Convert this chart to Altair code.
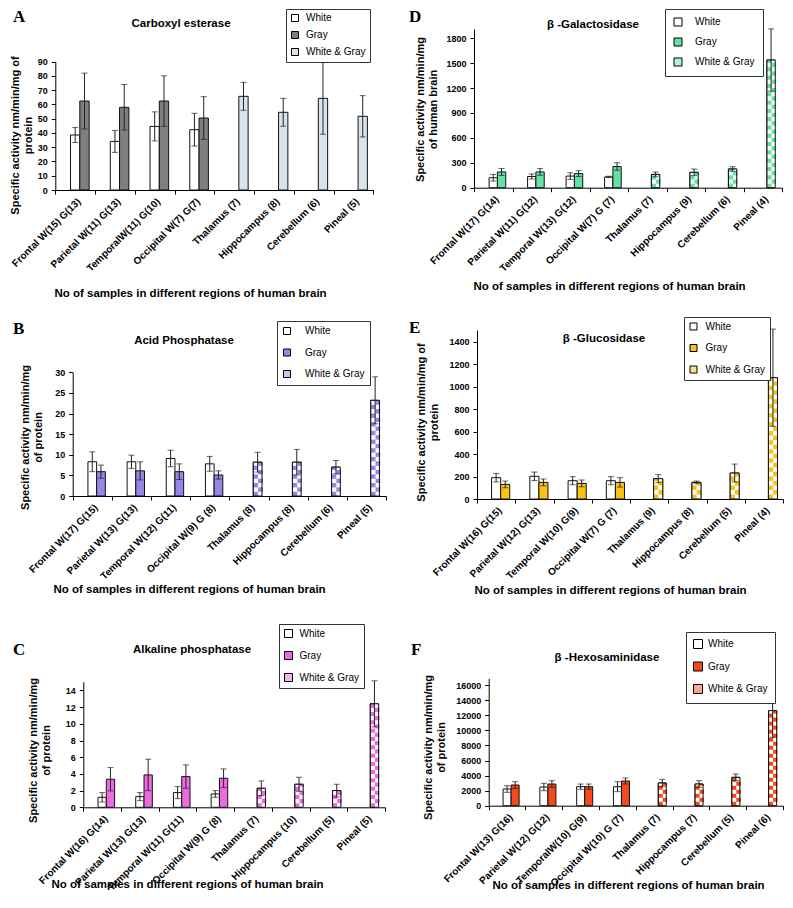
import altair as alt
import pandas as pd

SERIES = ["White", "Gray", "White & Gray"]
TITLE_X = "No of samples in different regions of human brain"

# ---------------- data ----------------
A_LABELS = ["Frontal W(15) G(13)", "Parietal W(11) G(13)", "TemporalW(11) G(10)", "Occipital W(7) G(7)",
            "Thalamus (7)", "Hippocampus (8)", "Cerebellum (6)", "Pineal  (5)"]
A_WHITE = [38.6, 34.1, 44.6, 42.3]
A_WHITE_SD = [5.3, 7.7, 10.2, 11.5]
A_GRAY = [62.4, 58.0, 62.4, 50.5]
A_GRAY_SD = [19.6, 16.0, 17.7, 15.0]
A_WG = [65.7, 54.5, 64.3, 51.7]
A_WG_SD = [9.8, 9.8, 25.2, 14.5]
A_TICKS = [0, 10, 20, 30, 40, 50, 60, 70, 80, 90]

D_LABELS = ["Frontal W(17) G(14)", "Parietal W(11) G(12)", "Temporal W(13) G(12)", "Occipital W(7) G (7)",
            "Thalamus (7)", "Hippocampus (9)", "Cerebellum (6)", "Pineal  (4)"]
D_WHITE = [120, 135, 140, 130]
D_WHITE_SD = [40, 30, 40, 8]
D_GRAY = [190, 190, 170, 255]
D_GRAY_SD = [42, 40, 35, 45]
D_WG = [160, 185, 225, 1538]
D_WG_SD = [28, 40, 28, 375]
D_TICKS = [0, 300, 600, 900, 1200, 1500, 1800]

B_LABELS = ["Frontal W(17) G(15)", "Parietal W(13) G(13)", "Temporal W(12) G(11)", "Occipital W(9) G (8)",
            "Thalamus (8)", "Hippocampus (8)", "Cerebellum (6)", "Pineal  (5)"]
B_WHITE = [8.3, 8.3, 9.1, 7.8]
B_WHITE_SD = [2.4, 1.6, 2.0, 1.8]
B_GRAY = [5.9, 6.1, 5.9, 5.1]
B_GRAY_SD = [1.6, 2.2, 1.9, 1.0]
B_WG = [8.2, 8.2, 7.0, 23.2]
B_WG_SD = [2.4, 3.1, 1.6, 5.7]
B_TICKS = [0, 5, 10, 15, 20, 25, 30]

E_LABELS = ["Frontal W(16) G(15)", "Parietal W(12) G(13)", "Temporal W(10) G(9)", "Occipital W(7) G (7)",
            "Thalamus (9)", "Hippocampus (8)", "Cerebellum (5)", "Pineal  (4)"]
E_WHITE = [190, 202, 163, 163]
E_WHITE_SD = [38, 38, 36, 36]
E_GRAY = [130, 148, 139, 148]
E_GRAY_SD = [30, 30, 30, 42]
E_WG = [181, 148, 231, 1080]
E_WG_SD = [36, 12, 80, 433]
E_TICKS = [0, 200, 400, 600, 800, 1000, 1200, 1400]

C_LABELS = ["Frontal W(16) G(14)", "Parietal W(13) G(13)", "Temporal W(11) G(11)", "Occipital W(9) G (8)",
            "Thalamus (7)", "Hippocampus (10)", "Cerebellum (5)", "Pineal  (5)"]
C_WHITE = [1.2, 1.28, 1.76, 1.6]
C_WHITE_SD = [0.56, 0.48, 0.72, 0.4]
C_GRAY = [3.36, 3.88, 3.68, 3.48]
C_GRAY_SD = [1.4, 1.88, 1.4, 1.12]
C_WG = [2.28, 2.76, 2.0, 12.4]
C_WG_SD = [0.88, 0.84, 0.76, 2.76]
C_TICKS = [0, 2, 4, 6, 8, 10, 12, 14]

F_LABELS = ["Frontal W(13) G(16)", "Parietal W(12) G(12)", "TemporalW(10) G(9)", "Occipital W(10) G (7)",
            "Thalamus (7)", "Hippocampus (7)", "Cerebellum (5)", "Pineal  (6)"]
F_WHITE = [2216, 2482, 2527, 2527]
F_WHITE_SD = [440, 488, 354, 664]
F_GRAY = [2748, 2881, 2527, 3280]
F_GRAY_SD = [443, 443, 354, 399]
F_WG = [3014, 2881, 3768, 12633]
F_WG_SD = [488, 443, 443, 3546]
F_TICKS = [0, 2000, 4000, 6000, 8000, 10000, 12000, 14000, 16000]

# ---------------- layout / style ----------------
CELL_W, CELL_H = 388, 290
FONT = "Liberation Sans"


def tint(hex_color, t=0.5):
    h = hex_color.lstrip("#")
    r, g, b = int(h[0:2], 16), int(h[2:4], 16), int(h[4:6], 16)
    r, g, b = [int(round(c + (255 - c) * t)) for c in (r, g, b)]
    return "#%02x%02x%02x" % (r, g, b)


PANELS = [
    dict(letter="A", title="Carboxyl esterase", labels=A_LABELS, white=A_WHITE, white_sd=A_WHITE_SD,
         gray=A_GRAY, gray_sd=A_GRAY_SD, wg=A_WG, wg_sd=A_WG_SD, ticks=A_TICKS, ymax=90,
         color="#7f7f7f", wg_color="#d9e4ea", pattern=False,
         x0=46.3, x1=364.3, y_top=53.7, y_bot=182, frac=0.234,
         ytitle=["Specific activity nm/min/mg of", "protein"], yt_x=-35.3, yt_y=127,
         xt_x=181, xt_y=106, letter_xy=(4, 14), title_xy=(172, 19),
         leg=dict(x=277, y=1, sym=7, off=6, pad=4, row=5)),
    dict(letter="D", title="β -Galactosidase", labels=D_LABELS, white=D_WHITE, white_sd=D_WHITE_SD,
         gray=D_GRAY, gray_sd=D_GRAY_SD, wg=D_WG, wg_sd=D_WG_SD, ticks=D_TICKS, ymax=1912,
         color="#62e3a3", wg_color=None, pattern=True,
         x0=77, x1=385, y_top=21, y_bot=179.7, frac=0.216,
         ytitle=["Specific activity nm/min/mg", "of human brain"], yt_x=-49, yt_y=101,
         xt_x=212, xt_y=101.3, letter_xy=(12, 14), title_xy=(196, 20),
         leg=dict(x=268, y=1, sym=8, off=12, pad=8, row=8)),
    dict(letter="B", title="Acid Phosphatase", labels=B_LABELS, white=B_WHITE, white_sd=B_WHITE_SD,
         gray=B_GRAY, gray_sd=B_GRAY_SD, wg=B_WG, wg_sd=B_WG_SD, ticks=B_TICKS, ymax=30,
         color="#9686ea", wg_color=None, pattern=True,
         x0=63.7, x1=377, y_top=74.3, y_bot=198, frac=0.222,
         ytitle=["Specific activity nm/min/mg", "of protein"], yt_x=-41.7, yt_y=139,
         xt_x=180, xt_y=96, letter_xy=(4, 36), title_xy=(175, 46),
         leg=dict(x=268, y=23, sym=7, off=13, pad=5, row=9.5)),
    dict(letter="E", title="β -Glucosidase", labels=E_LABELS, white=E_WHITE, white_sd=E_WHITE_SD,
         gray=E_GRAY, gray_sd=E_GRAY_SD, wg=E_WG, wg_sd=E_WG_SD, ticks=E_TICKS, ymax=1505,
         color="#f7c414", wg_color=None, pattern=True,
         x0=80, x1=386, y_top=32, y_bot=201, frac=0.237,
         ytitle=["Specific activity nm/min/mg of", "protein"], yt_x=-51, yt_y=124,
         xt_x=213, xt_y=94, letter_xy=(12, 35), title_xy=(207, 44),
         leg=dict(x=287, y=19, sym=7, off=7, pad=4.5, row=9.5)),
    dict(letter="C", title="Alkaline phosphatase", labels=C_LABELS, white=C_WHITE, white_sd=C_WHITE_SD,
         gray=C_GRAY, gray_sd=C_GRAY_SD, wg=C_WG, wg_sd=C_WG_SD, ticks=C_TICKS, ymax=15.05,
         color="#ee6ae2", wg_color=None, pattern=True,
         x0=74.3, x1=376, y_top=93.7, y_bot=219.3, frac=0.22,
         ytitle=["Specific activity nm/min/mg", "of protein"], yt_x=-45.3, yt_y=162,
         xt_x=178, xt_y=79.7, letter_xy=(4, 67), title_xy=(183, 65),
         leg=dict(x=270, y=36, sym=8, off=6, pad=4.5, row=10)),
    dict(letter="F", title="β -Hexosaminidase", labels=F_LABELS, white=F_WHITE, white_sd=F_WHITE_SD,
         gray=F_GRAY, gray_sd=F_GRAY_SD, wg=F_WG, wg_sd=F_WG_SD, ticks=F_TICKS, ymax=16930,
         color="#f24a1c", wg_color=None, pattern=True,
         x0=91.7, x1=386, y_top=90.3, y_bot=217.7, frac=0.218,
         ytitle=["Specific activity nm/min/mg", "of  protein"], yt_x=-55.7, yt_y=159,
         xt_x=231, xt_y=82.3, letter_xy=(14, 67), title_xy=(210, 73),
         leg=dict(x=289, y=44, sym=9, off=5, pad=7, row=8.5)),
]


def build_panel(p):
    labels = p["labels"]
    rows = []
    for i in range(4):
        rows.append({"region": labels[i], "slot": "W", "series": "White",
                     "v": p["white"][i], "sd": p["white_sd"][i]})
        rows.append({"region": labels[i], "slot": "G", "series": "Gray",
                     "v": p["gray"][i], "sd": p["gray_sd"][i]})
    for i in range(4):
        rows.append({"region": labels[4 + i], "slot": "G", "series": "White & Gray",
                     "v": p["wg"][i], "sd": p["wg_sd"][i]})
    df = pd.DataFrame(rows)
    df["lo"] = df["v"] - df["sd"]
    df["hi"] = df["v"] + df["sd"]

    f = p["frac"]
    # bars: slots [pad, W, G] -> W centred on the category, G just right of it
    pad3 = (1.0 / f - 3.0) / 2.0
    # checker halves: [p1, p2, p3, WL, WR, GL, GR, p4]
    pad8 = (1.0 / f - 4.0)

    xscale = alt.Scale(domain=labels, range=[p["x0"], p["x1"]], paddingInner=0, paddingOuter=0)
    yscale = alt.Scale(domain=[0, p["ymax"]], range=[p["y_bot"], p["y_top"]], nice=False, zero=True)
    xoff2 = alt.Scale(domain=["p", "W", "G"], paddingInner=0, paddingOuter=pad3, align=0.5)
    xoff4 = alt.Scale(domain=["p1", "p2", "p3", "WL", "WR", "GL", "GR", "p4"], paddingInner=0,
                      paddingOuter=pad8 / 2.0, align=0.5)

    xaxis = alt.Axis(title=TITLE_X, titleX=p["xt_x"], titleY=p["xt_y"], titleAlign="center",
                     titleBaseline="alphabetic", titleFont=FONT, titleFontSize=11.5, titleFontWeight="bold",
                     titleColor="black", labelAngle=-45, labelAlign="right", labelBaseline="top",
                     labelFont=FONT, labelFontSize=10, labelFontWeight="bold", labelColor="black",
                     labelPadding=2, labelOverlap=False, labelLimit=300, tickBand="extent", tickSize=4,
                     tickColor="black", domainColor="black", offset=p["y_bot"] - CELL_H, grid=False)
    yaxis = alt.Axis(title=p["ytitle"], titleX=p["yt_x"], titleY=p["yt_y"], titleAngle=270,
                     titleAlign="center", titleBaseline="bottom", titleLineHeight=13, titleFont=FONT,
                     titleFontSize=11, titleFontWeight="bold", titleColor="black", values=p["ticks"],
                     format="d", labelFont=FONT, labelFontSize=9, labelFontWeight="bold", labelColor="black",
                     labelPadding=4, tickSize=4, tickColor="black", domainColor="black",
                     offset=-p["x0"], grid=False, labelOverlap=False)

    def X():
        return alt.X("region:N", scale=xscale, axis=xaxis)

    def XO(scale=xoff2, field="slot:N"):
        return alt.XOffset(field, scale=scale)

    wg_leg = p["wg_color"] if p["wg_color"] else tint(p["color"], 0.5)
    L = p["leg"]
    legend = alt.Legend(orient="none", legendX=L["x"], legendY=L["y"], title=None, symbolType="square",
                        symbolSize=L["sym"] ** 2, symbolStrokeColor="black", symbolStrokeWidth=1,
                        symbolOpacity=1, labelFont=FONT, labelFontSize=10, labelColor="black",
                        labelOffset=L["off"], padding=L["pad"], rowPadding=L["row"], strokeColor="#333",
                        fillColor="white", columns=1)

    base = alt.Chart(df)
    layers = []
    layers.append(base.mark_bar(stroke="#111", strokeWidth=1).encode(
        x=X(), xOffset=XO(),
        y=alt.Y("v:Q", scale=yscale, axis=yaxis),
        color=alt.Color("series:N", scale=alt.Scale(domain=SERIES, range=["white", p["color"], wg_leg]),
                        legend=legend),
    ))

    if p["pattern"]:
        plot_h = p["y_bot"] - p["y_top"]
        cat_w = (p["x1"] - p["x0"]) / 8.0
        cell = (f * cat_w / 2.0) * p["ymax"] / plot_h
        crow = []
        for i in range(4):
            v = p["wg"][i]
            k = 0
            while k * cell < v - 1e-9:
                y0 = k * cell
                y1 = min((k + 1) * cell, v)
                for j, sub in enumerate(["GL", "GR"]):
                    crow.append({"region": labels[4 + i], "sub": sub, "y0": y0, "y1": y1,
                                 "par": "c" if (k + j) % 2 == 0 else "w"})
                k += 1
        cdf = pd.DataFrame(crow)
        layers.append(alt.Chart(cdf).mark_bar(strokeWidth=0).encode(
            x=X(), xOffset=XO(xoff4, "sub:N"),
            y=alt.Y("y0:Q", scale=yscale, axis=yaxis), y2="y1:Q",
            fill=alt.Fill("par:N", scale=alt.Scale(domain=["c", "w"], range=[p["color"], "white"]),
                          legend=None),
        ))
        layers.append(base.transform_filter(alt.datum.series == "White & Gray").mark_bar(
            fillOpacity=0, stroke="#111", strokeWidth=1).encode(
            x=X(), xOffset=XO(), y=alt.Y("v:Q", scale=yscale, axis=yaxis)))

    layers.append(base.mark_rule(color="#222", strokeWidth=1).encode(
        x=X(), xOffset=XO(), y=alt.Y("lo:Q", scale=yscale, axis=yaxis), y2="hi:Q"))
    layers.append(base.mark_tick(color="#222", thickness=1, size=6).encode(
        x=X(), xOffset=XO(), y=alt.Y("hi:Q", scale=yscale, axis=yaxis)))
    layers.append(base.mark_tick(color="#222", thickness=1, size=6).encode(
        x=X(), xOffset=XO(), y=alt.Y("lo:Q", scale=yscale, axis=yaxis)))

    one = pd.DataFrame([{"k": 0}])
    tx, ty = p["title_xy"]
    layers.append(alt.Chart(one).mark_text(text=p["title"], font=FONT, fontSize=11.5, fontWeight="bold",
                                           align="center", baseline="alphabetic", color="black").encode(
        x=alt.value(tx), y=alt.value(ty)))
    lx, ly = p["letter_xy"]
    layers.append(alt.Chart(one).mark_text(text=p["letter"], font="Liberation Serif", fontSize=17,
                                           fontWeight="bold", align="left", baseline="alphabetic",
                                           color="black").encode(x=alt.value(lx), y=alt.value(ly)))

    return alt.layer(*layers).resolve_scale(xOffset="independent").properties(width=CELL_W, height=CELL_H)


charts = [build_panel(p) for p in PANELS]
chart = alt.concat(*charts, columns=2, spacing=0, bounds="flush").resolve_scale(
    color="independent", fill="independent"
).properties(
    padding=0, background="white"
).configure_view(strokeWidth=0).configure_axis(grid=False)

chart.save("out.html", embed_options={"renderer": "svg", "actions": False})
